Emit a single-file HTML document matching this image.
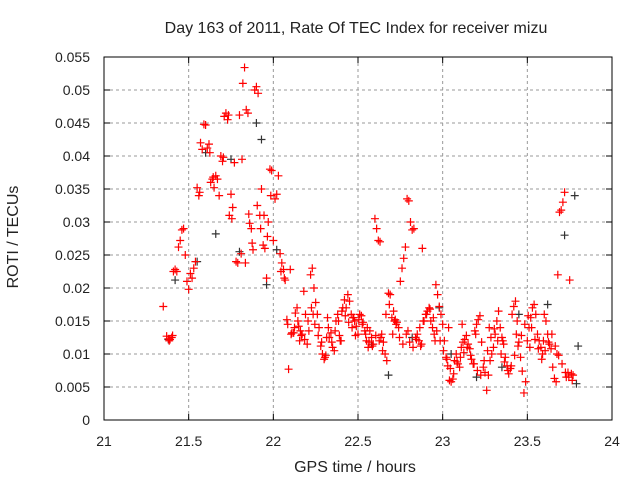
<!DOCTYPE html>
<html><head><meta charset="utf-8">
<style>
html,body{margin:0;padding:0;background:#fff;}
svg{display:block;font-family:"Liberation Sans",sans-serif;}
</style></head>
<body>
<svg id="chart" width="640" height="480">
<text x="356" y="33" text-anchor="middle" font-size="16" fill="#222">Day 163 of 2011, Rate Of TEC Index for receiver mizu</text>
<text x="355" y="472" text-anchor="middle" font-size="16" fill="#222">GPS time / hours</text>
<text x="18" y="237" text-anchor="middle" font-size="16" fill="#222" transform="rotate(-90 18 237)">ROTI / TECUs</text>
<g id="grid"></g><g id="marks"></g><g id="axes"></g>
</svg>
<script>
const xTicks=[21,21.5,22,22.5,23,23.5,24];
const xTickLabels=["21","21.5","22","22.5","23","23.5","24"];
const yTicks=[0,0.005,0.01,0.015,0.02,0.025,0.03,0.035,0.04,0.045,0.05,0.055];
const yTickLabels=["0","0.005","0.01","0.015","0.02","0.025","0.03","0.035","0.04","0.045","0.05","0.055"];
const redT=[21.35,21.37,21.38,21.39,21.40,21.41,21.42,21.43,21.44,21.45,21.46,21.47,21.48,21.49,21.50,21.51,21.52,21.53,21.54,21.55,21.56,21.57,21.58,21.59,21.60,21.61,21.62,21.63,21.64,21.65,21.66,21.67,21.68,21.69,21.70,21.71,21.72,21.73,21.74,21.75,21.76,21.77,21.78,21.79,21.80,21.81,21.82,21.83,21.84,21.85,21.86,21.87,21.88,21.89,21.90,21.91,21.92,21.93,21.94,21.95,21.96,21.97,21.98,21.99,22.00,22.01,22.02,22.03,22.04,22.05,22.06,22.07,22.08,22.09,22.10,22.11,22.12,22.13,22.14,22.15,22.16,22.17,22.18,22.19,22.20,22.21,22.22,22.23,22.24,22.25,22.26,22.27,22.28,22.29,22.30,22.31,22.32,22.33,22.34,22.35,22.36,22.37,22.38,22.39,22.40,22.41,22.42,22.43,22.44,22.45,22.46,22.47,22.48,22.49,22.50,22.51,22.52,22.53,22.54,22.55,22.56,22.57,22.58,22.59,22.60,22.61,22.62,22.63,22.64,22.65,22.66,22.67,22.68,22.69,22.70,22.71,22.72,22.73,22.74,22.75,22.76,22.77,22.78,22.79,22.80,22.81,22.82,22.83,22.84,22.85,22.86,22.87,22.88,22.89,22.90,22.91,22.92,22.93,22.94,22.95,22.96,22.97,22.98,22.99,23.00,23.01,23.02,23.03,23.04,23.05,23.06,23.07,23.08,23.09,23.10,23.11,23.12,23.13,23.14,23.15,23.16,23.17,23.18,23.19,23.20,23.21,23.22,23.23,23.24,23.25,23.26,23.27,23.28,23.29,23.30,23.31,23.32,23.33,23.34,23.35,23.36,23.37,23.38,23.39,23.40,23.41,23.42,23.43,23.44,23.45,23.46,23.47,23.48,23.49,23.50,23.51,23.52,23.53,23.54,23.55,23.56,23.57,23.58,23.59,23.60,23.61,23.62,23.63,23.64,23.65,23.66,23.67,23.68,23.69,23.70,23.71,23.72,23.73,23.74,23.75,23.76,23.77];
const redV=[0.0172,0.0127,0.0123,0.0122,0.0125,0.0225,0.0228,0.0225,0.0262,0.0272,0.0288,0.0290,0.0250,0.0210,0.0198,0.0222,0.0215,0.0230,0.0240,0.0352,0.0340,0.0420,0.0410,0.0448,0.0447,0.0412,0.0418,0.0360,0.0365,0.0352,0.0370,0.0365,0.0340,0.0400,0.0392,0.0460,0.0465,0.0455,0.0310,0.0342,0.0322,0.0390,0.0240,0.0238,0.0462,0.0252,0.0510,0.0534,0.0470,0.0465,0.0298,0.0290,0.0258,0.0500,0.0505,0.0495,0.0310,0.0350,0.0265,0.0260,0.0215,0.0300,0.0380,0.0378,0.0272,0.0335,0.0342,0.0370,0.0252,0.0238,0.0228,0.0212,0.0152,0.0077,0.0228,0.0132,0.0132,0.0162,0.0170,0.0142,0.0135,0.0130,0.0195,0.0160,0.0115,0.0135,0.0220,0.0230,0.0200,0.0178,0.0160,0.0140,0.0112,0.0100,0.0092,0.0098,0.0155,0.0125,0.0132,0.0110,0.0105,0.0150,0.0160,0.0128,0.0120,0.0170,0.0182,0.0170,0.0190,0.0180,0.0160,0.0155,0.0150,0.0142,0.0130,0.0160,0.0158,0.0148,0.0135,0.0120,0.0110,0.0135,0.0125,0.0115,0.0305,0.0290,0.0272,0.0270,0.0130,0.0118,0.0100,0.0090,0.0192,0.0190,0.0155,0.0165,0.0152,0.0148,0.0140,0.0210,0.0230,0.0245,0.0262,0.0335,0.0332,0.0300,0.0288,0.0290,0.0125,0.0130,0.0120,0.0112,0.0260,0.0150,0.0160,0.0165,0.0170,0.0150,0.0140,0.0130,0.0205,0.0190,0.0172,0.0160,0.0145,0.0120,0.0095,0.0082,0.0060,0.0058,0.0062,0.0090,0.0100,0.0085,0.0080,0.0110,0.0118,0.0122,0.0128,0.0115,0.0108,0.0092,0.0085,0.0135,0.0145,0.0152,0.0158,0.0118,0.0080,0.0072,0.0045,0.0068,0.0090,0.0100,0.0110,0.0130,0.0150,0.0165,0.0140,0.0125,0.0115,0.0095,0.0082,0.0070,0.0078,0.0160,0.0172,0.0180,0.0150,0.0118,0.0095,0.0074,0.0041,0.0058,0.0120,0.0140,0.0155,0.0170,0.0175,0.0160,0.0130,0.0120,0.0110,0.0100,0.0160,0.0150,0.0130,0.0115,0.0108,0.0080,0.0063,0.0058,0.0220,0.0315,0.0318,0.0330,0.0345,0.0065,0.0072,0.0212,0.0070,0.0068,0.0312,0.0305,0.0310,0.0122,0.0070,0.0068];
const extraT=[21.385,21.405,21.565,21.625,21.645,21.705,21.735,21.755,21.815,21.835,21.855,21.875,21.905,21.925,21.945,21.965,21.985,22.045,22.065,22.085,22.105,22.125,22.145,22.165,22.185,22.205,22.225,22.245,22.265,22.285,22.305,22.325,22.345,22.365,22.385,22.405,22.425,22.445,22.465,22.485,22.505,22.525,22.545,22.565,22.585,22.605,22.625,22.645,22.665,22.685,22.705,22.725,22.745,22.765,22.785,22.805,22.825,22.845,22.865,22.885,22.905,22.925,22.945,22.965,22.985,23.005,23.025,23.045,23.065,23.085,23.105,23.125,23.145,23.165,23.185,23.205,23.225,23.245,23.265,23.285,23.305,23.325,23.345,23.365,23.385,23.405,23.425,23.445,23.465,23.485,23.505,23.525,23.545,23.565,23.585,23.605,23.625,23.645,23.665,23.685,23.705,23.725,23.745,23.765,23.035,23.115,23.195,23.275,23.355,23.435,23.515,23.595,23.675,22.955,22.875,22.795,22.715,22.635,22.555,22.475,22.395,22.315,22.235,22.155];
const extraV=[0.0120,0.0128,0.0345,0.0405,0.0368,0.0398,0.0462,0.0305,0.0395,0.0238,0.0312,0.0268,0.0325,0.0290,0.0310,0.0278,0.0340,0.0225,0.0215,0.0145,0.0130,0.0140,0.0150,0.0128,0.0122,0.0150,0.0170,0.0145,0.0128,0.0118,0.0095,0.0140,0.0118,0.0135,0.0150,0.0165,0.0158,0.0148,0.0140,0.0128,0.0152,0.0145,0.0130,0.0118,0.0112,0.0128,0.0120,0.0105,0.0160,0.0175,0.0130,0.0145,0.0125,0.0115,0.0130,0.0118,0.0110,0.0122,0.0140,0.0150,0.0160,0.0168,0.0155,0.0135,0.0120,0.0105,0.0092,0.0078,0.0070,0.0088,0.0095,0.0102,0.0110,0.0098,0.0085,0.0075,0.0068,0.0090,0.0105,0.0125,0.0138,0.0120,0.0100,0.0088,0.0075,0.0082,0.0098,0.0112,0.0128,0.0145,0.0158,0.0140,0.0122,0.0108,0.0092,0.0105,0.0118,0.0130,0.0112,0.0098,0.0085,0.0072,0.0065,0.0060,0.0140,0.0145,0.0130,0.0140,0.0120,0.0130,0.0110,0.0120,0.0100,0.0120,0.0115,0.0135,0.0150,0.0125,0.0140,0.0155,0.0120,0.0125,0.0160,0.0120];
const grayT=[21.38,21.42,21.55,21.60,21.66,21.75,21.80,21.90,21.93,21.96,22.02,22.58,22.68,22.82,22.98,23.05,23.20,23.35,23.45,23.62,23.72,23.78,23.80,23.79];
const grayV=[0.0122,0.0212,0.0240,0.0405,0.0282,0.0395,0.0255,0.0450,0.0425,0.0205,0.0258,0.0115,0.0068,0.0125,0.0170,0.0100,0.0065,0.0080,0.0160,0.0175,0.0280,0.0340,0.0112,0.0055];

const L=104,R=612,T=57,B=420;
function xs(v){return L+(v-21)/3*(R-L);}
function ys(v){return B-(v/0.055)*(B-T);}
const NS="http://www.w3.org/2000/svg";
function mk(tag,attrs,parent){const e=document.createElementNS(NS,tag);for(const k in attrs)e.setAttribute(k,attrs[k]);parent.appendChild(e);return e;}
const grid=document.getElementById('grid'),axes=document.getElementById('axes'),marks=document.getElementById('marks');
xTicks.forEach((t,i)=>{
  const x=xs(t);
  if(i>0&&i<xTicks.length-1){const g=mk('line',{x1:x,x2:x,y1:T,y2:B,stroke:'#999','stroke-dasharray':'3,3'},grid);
  
  }
  mk('line',{x1:x,x2:x,y1:B,y2:B-6,stroke:'#000'},axes);
  mk('line',{x1:x,x2:x,y1:T,y2:T+6,stroke:'#000'},axes);
  const tx=mk('text',{x:x,y:B+26,'text-anchor':'middle','font-size':14,fill:'#222'},axes);
  tx.textContent=xTickLabels[i];
  
  
});
yTicks.forEach((t,i)=>{
  const y=ys(t);
  if(i>0&&i<yTicks.length-1){const g=mk('line',{x1:L,x2:R,y1:y,y2:y,stroke:'#999','stroke-dasharray':'3,3'},grid);
  
  }
  mk('line',{x1:L,x2:L+6,y1:y,y2:y,stroke:'#000'},axes);
  mk('line',{x1:R,x2:R-6,y1:y,y2:y,stroke:'#000'},axes);
  const tx=mk('text',{x:L-14,y:y+5,'text-anchor':'end','font-size':14,fill:'#222'},axes);
  tx.textContent=yTickLabels[i];
  
  
});
const frame=mk('rect',{x:L,y:T,width:R-L,height:B-T,fill:'none',stroke:'#000','stroke-width':1},axes);


function plus(t,v,color,name){
  const x=xs(t),y=ys(v);
  const p=mk('path',{d:`M${x-4},${y}H${x+4}M${x},${y-4}V${y+4}`,stroke:color,'stroke-width':1.2,fill:'none'},marks);
  
  
}
grayT.forEach((t,i)=>plus(t,grayV[i],'#333','gray-point'));
redT.forEach((t,i)=>plus(t,redV[i],'#ff0000','roti-point'));
extraT.forEach((t,i)=>plus(t,extraV[i],'#ff0000','roti-point'));
</script>
</body></html>
